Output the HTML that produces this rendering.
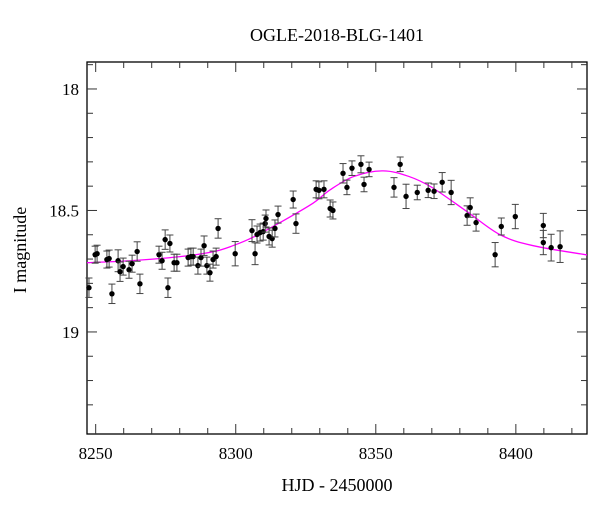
<!DOCTYPE html>
<html><head><meta charset="utf-8"><style>
html,body{margin:0;padding:0;background:#fff;}
svg text{font-family:"Liberation Serif",serif;fill:#000;}
</style></head><body>
<svg id="chart" width="600" height="512" viewBox="0 0 600 512" xmlns="http://www.w3.org/2000/svg">
<text x="337" y="41" font-size="18" text-anchor="middle">OGLE-2018-BLG-1401</text>
<text x="337" y="491" font-size="18" text-anchor="middle">HJD - 2450000</text>
<text x="26" y="250" font-size="18" text-anchor="middle" transform="rotate(-90 26 250)">I magnitude</text>
<g id="axes"></g>
<g id="model"></g>
<g id="points"></g>
</svg>
<script>
const times=[8247.6,8249.8,8250.5,8254.0,8254.8,8255.8,8258.0,8258.7,8259.8,8261.9,8263.0,8264.8,8265.8,8272.6,8273.7,8274.8,8275.8,8276.5,8278.0,8279.0,8283.0,8284.0,8284.8,8286.5,8287.6,8288.7,8289.7,8290.8,8291.9,8293.0,8293.7,8299.8,8305.8,8306.9,8307.6,8308.7,8309.8,8310.5,8310.8,8311.9,8313.0,8314.0,8315.1,8320.5,8321.5,8328.7,8329.7,8331.5,8333.7,8334.7,8338.3,8339.7,8341.5,8344.7,8345.8,8347.6,8356.5,8358.7,8360.8,8364.8,8368.7,8370.8,8373.7,8376.9,8382.6,8383.7,8385.8,8392.6,8394.8,8399.8,8409.8,8409.8,8412.6,8415.8];
const mags=[18.818,18.682,18.678,18.702,18.698,18.843,18.707,18.752,18.731,18.744,18.719,18.669,18.802,18.682,18.707,18.620,18.818,18.636,18.715,18.715,18.694,18.690,18.690,18.727,18.694,18.645,18.727,18.756,18.702,18.690,18.574,18.678,18.583,18.678,18.599,18.591,18.587,18.554,18.533,18.607,18.616,18.574,18.517,18.455,18.554,18.413,18.417,18.413,18.492,18.500,18.347,18.405,18.326,18.310,18.393,18.331,18.405,18.310,18.442,18.426,18.417,18.421,18.384,18.426,18.521,18.488,18.550,18.682,18.566,18.525,18.562,18.632,18.653,18.649];
const errs=[0.04,0.035,0.035,0.035,0.035,0.04,0.045,0.04,0.035,0.035,0.035,0.04,0.04,0.035,0.035,0.04,0.04,0.035,0.035,0.035,0.035,0.035,0.035,0.035,0.035,0.04,0.035,0.035,0.035,0.035,0.04,0.05,0.045,0.045,0.035,0.035,0.035,0.035,0.035,0.035,0.035,0.035,0.035,0.035,0.04,0.035,0.035,0.035,0.035,0.035,0.04,0.03,0.03,0.035,0.03,0.03,0.04,0.03,0.05,0.03,0.03,0.03,0.04,0.05,0.04,0.04,0.035,0.05,0.035,0.05,0.05,0.05,0.055,0.065];
const modelT=[8246.9,8262.3,8280.1,8291.9,8299.0,8306.2,8315.8,8327.6,8333.7,8342.2,8352.6,8361.8,8370.0,8382.6,8394.4,8406.2,8425.4];
const modelMag=[18.715,18.707,18.69,18.67,18.645,18.61,18.55,18.47,18.415,18.36,18.337,18.36,18.405,18.505,18.60,18.645,18.683];
const xTickLabels=[8250,8300,8350,8400];
const yTickLabels=[18,18.5,19];

const NS="http://www.w3.org/2000/svg";
const L=87,R=587,T=62,B=434;
const X0=8246.9,X1=8425.4,Y0=17.889,Y1=19.420;
function xs(t){return L+(t-X0)/(X1-X0)*(R-L);}
function ys(m){return T+(m-Y0)/(Y1-Y0)*(B-T);}
function mk(tag,attrs,parent){const e=document.createElementNS(NS,tag);for(const k in attrs)e.setAttribute(k,attrs[k]);parent.appendChild(e);return e;}
const axes=document.getElementById('axes');
const frame=mk('rect',{x:L,y:T,width:R-L,height:B-T,fill:'none',stroke:'#000','stroke-width':1.3},axes);


for(let t=8250;t<=8420;t+=10){
  const x=xs(t),len=(t%50===0)?10:6;
  const a=mk('line',{x1:x,x2:x,y1:B,y2:B-len,stroke:'#333','stroke-width':1},axes);
  
  
  const b=mk('line',{x1:x,x2:x,y1:T,y2:T+len,stroke:'#333','stroke-width':1},axes);
  
  
}
xTickLabels.forEach(v=>{
  const tx=mk('text',{x:xs(v),y:B+25,'font-size':17,'text-anchor':'middle'},axes);
  tx.textContent=v;
  
  
});
for(let i=0;i<=14;i++){
  const m=17.9+i*0.1;
  if(m<Y0||m>Y1)continue;
  const y=ys(m);const major=Math.abs(m*2-Math.round(m*2))<1e-6;const len=major?10:6;
  const a=mk('line',{x1:L,x2:L+len,y1:y,y2:y,stroke:'#333','stroke-width':1},axes);
  
  
  const b=mk('line',{x1:R,x2:R-len,y1:y,y2:y,stroke:'#333','stroke-width':1},axes);
  
  
}
yTickLabels.forEach(v=>{
  const tx=mk('text',{x:L-8,y:ys(v)+6,'font-size':17,'text-anchor':'end'},axes);
  tx.textContent=v;
  
  
});
// model curve (Catmull-Rom)
const P=modelT.map((t,i)=>[xs(t),ys(modelMag[i])]);
let d='M'+P[0][0]+','+P[0][1];
for(let i=0;i<P.length-1;i++){
  const p0=P[Math.max(0,i-1)],p1=P[i],p2=P[i+1],p3=P[Math.min(P.length-1,i+2)];
  const c1=[p1[0]+(p2[0]-p0[0])/6,p1[1]+(p2[1]-p0[1])/6];
  const c2=[p2[0]-(p3[0]-p1[0])/6,p2[1]-(p3[1]-p1[1])/6];
  d+=' C'+c1+' '+c2+' '+p2;
}
const clip=mk('clipPath',{id:'pc'},document.getElementById('chart'));
mk('rect',{x:L,y:T,width:R-L,height:B-T},clip);
const curve=mk('path',{d:d,fill:'none',stroke:'#ff00ff','stroke-width':1.3,'clip-path':'url(#pc)'},document.getElementById('model'));


const pts=document.getElementById('points');
times.forEach((t,i)=>{
  const x=xs(t),y=ys(mags[i]),e=errs[i]*(B-T)/(Y1-Y0);
  const g=mk('g',{},pts);
  
  
  mk('line',{x1:x,x2:x,y1:y-e,y2:y+e,stroke:'#444','stroke-width':1},g);
  mk('line',{x1:x-3.5,x2:x+3.5,y1:y-e,y2:y-e,stroke:'#444','stroke-width':1},g);
  mk('line',{x1:x-3.5,x2:x+3.5,y1:y+e,y2:y+e,stroke:'#444','stroke-width':1},g);
  mk('circle',{cx:x,cy:y,r:2.7,fill:'#000'},g);
});
</script>
</body></html>
